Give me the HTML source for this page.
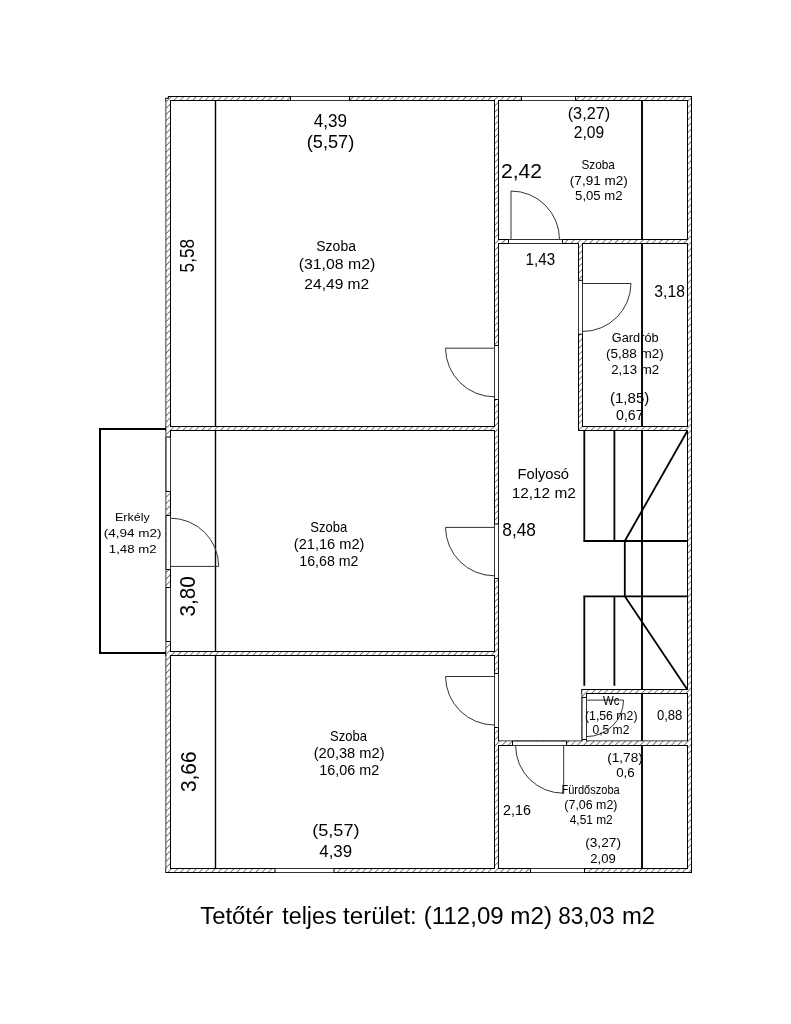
<!DOCTYPE html><html><head><meta charset="utf-8"><style>html,body{margin:0;padding:0;background:#fff;width:791px;height:1024px;overflow:hidden}svg{display:block}text{font-family:"Liberation Sans",sans-serif;fill:#000}</style></head><body>
<svg width="791" height="1024" viewBox="0 0 791 1024">
<defs><filter id="nf" filterUnits="userSpaceOnUse" x="0" y="0" width="791" height="1024"><feOffset dx="0" dy="0"/></filter><pattern id="h" patternUnits="userSpaceOnUse" width="4.439" height="4.439" patternTransform="rotate(45) translate(2.574 0)"><rect width="4.439" height="4.439" fill="#fff"/><line x1="0" y1="0" x2="0" y2="4.439" stroke="#000" stroke-width="1"/></pattern></defs>
<rect width="791" height="1024" fill="#fff"/>
<g fill="url(#h)" stroke="#000" stroke-width="1"><rect x="166" y="96.5" width="525.5" height="4"/><rect x="166" y="868.5" width="525.5" height="4"/><rect x="166" y="96.5" width="4.5" height="776"/><rect x="687.5" y="96.5" width="4" height="776"/><rect x="494.5" y="96.5" width="4" height="776"/><rect x="166" y="426.5" width="332.5" height="4"/><rect x="166" y="651.5" width="332.5" height="4"/><rect x="494.5" y="239.5" width="197" height="4"/><rect x="578.5" y="239.5" width="4" height="191"/><rect x="578.5" y="426.5" width="113" height="4"/><rect x="582" y="689.5" width="109.5" height="4"/><rect x="582" y="689.5" width="4.5" height="56"/><rect x="494.5" y="741" width="197" height="4.5"/></g>
<g fill="url(#h)"><rect x="166.5" y="97" width="524.5" height="3"/><rect x="166.5" y="869" width="524.5" height="3"/><rect x="166.5" y="97" width="3.5" height="775"/><rect x="688" y="97" width="3" height="775"/><rect x="495" y="97" width="3" height="775"/><rect x="166.5" y="427" width="331.5" height="3"/><rect x="166.5" y="652" width="331.5" height="3"/><rect x="495" y="240" width="196" height="3"/><rect x="579" y="240" width="3" height="190"/><rect x="579" y="427" width="112" height="3"/><rect x="582.5" y="690" width="108.5" height="3"/><rect x="582.5" y="690" width="3.5" height="55"/><rect x="495" y="741.5" width="196" height="3.5"/></g>
<path d="M165 95.9H167.9V97.8H165Z" fill="#fff"/><path d="M166 99V98.3H168.4V96.5" fill="none" stroke="#000" stroke-width="1"/>
<g><rect x="290.5" y="97" width="59" height="3" fill="#fff"/><path d="M290.5 96.5H349.5M290.5 100.5H349.5" stroke="#333" stroke-width="1"/><path d="M290.5 96.5V100.5M349.5 96.5V100.5" stroke="#000" stroke-width="1"/><rect x="521.5" y="97" width="54" height="3" fill="#fff"/><path d="M521.5 96.5H575.5M521.5 100.5H575.5" stroke="#333" stroke-width="1"/><path d="M521.5 96.5V100.5M575.5 96.5V100.5" stroke="#000" stroke-width="1"/><rect x="530.5" y="869" width="54" height="3" fill="#fff"/><path d="M530.5 868.5H584.5M530.5 872.5H584.5" stroke="#333" stroke-width="1"/><path d="M530.5 868.5V872.5M584.5 868.5V872.5" stroke="#000" stroke-width="1"/><rect x="275" y="869" width="59" height="3" fill="#fff"/><path d="M275 868.5H334M275 872.5H334" stroke="#333" stroke-width="1"/><path d="M275 868.5V872.5M334 868.5V872.5" stroke="#000" stroke-width="1"/><rect x="495" y="345.5" width="3" height="54" fill="#fff"/><path d="M494.5 345.5V399.5M498.5 345.5V399.5" stroke="#333" stroke-width="1"/><path d="M494.5 345.5H498.5M494.5 399.5H498.5" stroke="#000" stroke-width="1"/><rect x="495" y="524" width="3" height="54.5" fill="#fff"/><path d="M494.5 524V578.5M498.5 524V578.5" stroke="#333" stroke-width="1"/><path d="M494.5 524H498.5M494.5 578.5H498.5" stroke="#000" stroke-width="1"/><rect x="495" y="673.5" width="3" height="54" fill="#fff"/><path d="M494.5 673.5V727.5M498.5 673.5V727.5" stroke="#333" stroke-width="1"/><path d="M494.5 673.5H498.5M494.5 727.5H498.5" stroke="#000" stroke-width="1"/><rect x="508.5" y="240" width="54" height="3" fill="#fff"/><path d="M508.5 239.5H562.5M508.5 243.5H562.5" stroke="#333" stroke-width="1"/><path d="M508.5 239.5V243.5M562.5 239.5V243.5" stroke="#000" stroke-width="1"/><rect x="579" y="280.3" width="3" height="53.9" fill="#fff"/><path d="M578.5 280.3V334.2M582.5 280.3V334.2" stroke="#333" stroke-width="1"/><path d="M578.5 280.3H582.5M578.5 334.2H582.5" stroke="#000" stroke-width="1"/><rect x="582.5" y="697.5" width="3.5" height="42" fill="#fff"/><path d="M582 697.5V739.5M586.5 697.5V739.5" stroke="#333" stroke-width="1"/><path d="M582 697.5H586.5M582 739.5H586.5" stroke="#000" stroke-width="1"/><rect x="512.5" y="741.5" width="54" height="3.5" fill="#fff"/><path d="M512.5 741H566.5M512.5 745.5H566.5" stroke="#333" stroke-width="1"/><path d="M512.5 741V745.5M566.5 741V745.5" stroke="#000" stroke-width="1"/><rect x="166.5" y="437" width="3.5" height="54.5" fill="#fff"/><path d="M166 437V491.5M170.5 437V491.5" stroke="#333" stroke-width="1"/><path d="M166 437H170.5M166 491.5H170.5" stroke="#000" stroke-width="1"/><rect x="166.5" y="515.5" width="3.5" height="54" fill="#fff"/><path d="M166 515.5V569.5M170.5 515.5V569.5" stroke="#333" stroke-width="1"/><path d="M166 515.5H170.5M166 569.5H170.5" stroke="#000" stroke-width="1"/><rect x="166.5" y="587.5" width="3.5" height="54" fill="#fff"/><path d="M166 587.5V641.5M170.5 587.5V641.5" stroke="#333" stroke-width="1"/><path d="M166 587.5H170.5M166 641.5H170.5" stroke="#000" stroke-width="1"/></g>
<g stroke="#000"><line x1="215.5" y1="100.5" x2="215.5" y2="426.5" stroke-width="1.4"/><line x1="215.5" y1="430.5" x2="215.5" y2="651.5" stroke-width="1.4"/><line x1="215.5" y1="655.5" x2="215.5" y2="868.5" stroke-width="1.4"/><line x1="642" y1="100.5" x2="642" y2="239.5" stroke-width="1.9"/><line x1="642" y1="243.5" x2="642" y2="426.5" stroke-width="1.9"/><line x1="642" y1="430.5" x2="642" y2="689.5" stroke-width="1.9"/><line x1="642" y1="693.5" x2="642" y2="741" stroke-width="1.9"/><line x1="642" y1="745.5" x2="642" y2="868.5" stroke-width="1.9"/><line x1="584.3" y1="430.5" x2="584.3" y2="541" stroke-width="1.8"/><line x1="614.4" y1="430.5" x2="614.4" y2="541" stroke-width="1.8"/><line x1="583.4" y1="541" x2="687.5" y2="541" stroke-width="1.8"/><line x1="687.3" y1="431" x2="624.8" y2="541" stroke-width="1.8"/><line x1="624.8" y1="541" x2="624.8" y2="596.3" stroke-width="1.8"/><line x1="583.4" y1="596.3" x2="687.5" y2="596.3" stroke-width="1.8"/><line x1="624.8" y1="596.3" x2="687.3" y2="689.5" stroke-width="1.8"/><line x1="584.3" y1="596.3" x2="584.3" y2="685.8" stroke-width="1.8"/><line x1="614.4" y1="596.3" x2="614.4" y2="685.8" stroke-width="1.8"/><line x1="100" y1="429" x2="166" y2="429" stroke-width="2"/><line x1="100" y1="428" x2="100" y2="654" stroke-width="2"/><line x1="99" y1="653" x2="166" y2="653" stroke-width="2"/></g>
<g fill="none" stroke="#333" stroke-width="1"><path d="M494.5 348.2L445.5 348.2A49 49 0 0 0 494.5 396.8"/><path d="M494.5 527.4L445.5 527.4A49 49 0 0 0 494.5 575.8"/><path d="M494.5 676.5L445.5 676.5A49 49 0 0 0 494.5 725"/><path d="M511 239.5L511 191A48.5 48.5 0 0 1 559.5 239.5"/><path d="M582.5 283.5L631 283.5A48.5 48.5 0 0 1 582.5 331.5"/><path d="M586.5 700.1L623.6 700.1A37.1 37.1 0 0 1 586.5 736.6"/><path d="M563.7 745.5L563.7 793.2A47.7 47.7 0 0 1 515.6 745.5"/><path d="M170.5 566.4L218.7 566.4A48.2 48.2 0 0 0 170.5 518.2"/></g>
<g filter="url(#nf)"><text x="313.66" y="126.7" font-size="17.43" textLength="33.34" lengthAdjust="spacingAndGlyphs">4,39</text><text x="306.71" y="147.5" font-size="17.43" textLength="47.53" lengthAdjust="spacingAndGlyphs">(5,57)</text><text x="316.3" y="250.6" font-size="14" textLength="39.64" lengthAdjust="spacingAndGlyphs">Szoba</text><text x="298.75" y="269.4" font-size="14" textLength="76.48" lengthAdjust="spacingAndGlyphs">(31,08 m2)</text><text x="304.32" y="288.5" font-size="14" textLength="64.95" lengthAdjust="spacingAndGlyphs">24,49 m2</text><text x="567.73" y="118.8" font-size="15.79" textLength="42.39" lengthAdjust="spacingAndGlyphs">(3,27)</text><text x="573.82" y="137.6" font-size="15.79" textLength="30.3" lengthAdjust="spacingAndGlyphs">2,09</text><text x="500.94" y="178.4" font-size="20.57" textLength="41.14" lengthAdjust="spacingAndGlyphs">2,42</text><text x="581.41" y="168.5" font-size="12.86" textLength="33.54" lengthAdjust="spacingAndGlyphs">Szoba</text><text x="569.89" y="184.5" font-size="12.86" textLength="57.81" lengthAdjust="spacingAndGlyphs">(7,91 m2)</text><text x="575.07" y="200.3" font-size="12.86" textLength="47.53" lengthAdjust="spacingAndGlyphs">5,05 m2</text><text x="525.59" y="264.5" font-size="16.29" textLength="29.52" lengthAdjust="spacingAndGlyphs">1,43</text><text x="654.37" y="296.8" font-size="16.29" textLength="30.56" lengthAdjust="spacingAndGlyphs">3,18</text><text x="611.86" y="342.1" font-size="13.21" textLength="46.73" lengthAdjust="spacingAndGlyphs">Gardrób</text><text x="605.99" y="357.7" font-size="13.21" textLength="57.81" lengthAdjust="spacingAndGlyphs">(5,88 m2)</text><text x="611.24" y="373.8" font-size="13.21" textLength="47.87" lengthAdjust="spacingAndGlyphs">2,13 m2</text><text x="610" y="403.1" font-size="13.71" textLength="39.24" lengthAdjust="spacingAndGlyphs">(1,85)</text><text x="616.03" y="420.2" font-size="13.71" textLength="27.63" lengthAdjust="spacingAndGlyphs">0,67</text><text x="517.52" y="478.7" font-size="15" textLength="51.49" lengthAdjust="spacingAndGlyphs">Folyosó</text><text x="511.67" y="497.6" font-size="15" textLength="64.09" lengthAdjust="spacingAndGlyphs">12,12 m2</text><text x="502.31" y="535.7" font-size="17.71" textLength="33.7" lengthAdjust="spacingAndGlyphs">8,48</text><text x="115" y="520.6" font-size="11.5" textLength="34.81" lengthAdjust="spacingAndGlyphs">Erkély</text><text x="103.69" y="536.6" font-size="11.5" textLength="57.92" lengthAdjust="spacingAndGlyphs">(4,94 m2)</text><text x="108.84" y="552.7" font-size="11.5" textLength="47.76" lengthAdjust="spacingAndGlyphs">1,48 m2</text><text x="310.25" y="532.1" font-size="13.79" textLength="36.99" lengthAdjust="spacingAndGlyphs">Szoba</text><text x="293.82" y="549.1" font-size="13.79" textLength="70.63" lengthAdjust="spacingAndGlyphs">(21,16 m2)</text><text x="299.26" y="566.2" font-size="13.79" textLength="59.24" lengthAdjust="spacingAndGlyphs">16,68 m2</text><text x="330.05" y="740.7" font-size="13.93" textLength="36.99" lengthAdjust="spacingAndGlyphs">Szoba</text><text x="313.72" y="758.2" font-size="13.93" textLength="70.84" lengthAdjust="spacingAndGlyphs">(20,38 m2)</text><text x="319.35" y="775" font-size="13.93" textLength="59.86" lengthAdjust="spacingAndGlyphs">16,06 m2</text><text x="312.21" y="836.2" font-size="16.71" textLength="47.32" lengthAdjust="spacingAndGlyphs">(5,57)</text><text x="319.26" y="856.6" font-size="16.71" textLength="32.82" lengthAdjust="spacingAndGlyphs">4,39</text><text x="603.09" y="704.5" font-size="12.14" textLength="16.38" lengthAdjust="spacingAndGlyphs">Wc</text><text x="584.96" y="719.8" font-size="12.14" textLength="52.57" lengthAdjust="spacingAndGlyphs">(1,56 m2)</text><text x="592.52" y="734.4" font-size="12.14" textLength="36.85" lengthAdjust="spacingAndGlyphs">0,5 m2</text><text x="656.88" y="720.2" font-size="14.14" textLength="25.43" lengthAdjust="spacingAndGlyphs">0,88</text><text x="607.18" y="762.1" font-size="12.64" textLength="35.57" lengthAdjust="spacingAndGlyphs">(1,78)</text><text x="616.17" y="777.4" font-size="12.64" textLength="18.57" lengthAdjust="spacingAndGlyphs">0,6</text><text x="561.42" y="793.9" font-size="12.5" textLength="58.29" lengthAdjust="spacingAndGlyphs">Fürdőszoba</text><text x="564.36" y="809.3" font-size="12.5" textLength="53.08" lengthAdjust="spacingAndGlyphs">(7,06 m2)</text><text x="569.76" y="824.1" font-size="12.5" textLength="42.97" lengthAdjust="spacingAndGlyphs">4,51 m2</text><text x="503.08" y="815.1" font-size="15.14" textLength="27.88" lengthAdjust="spacingAndGlyphs">2,16</text><text x="585.18" y="846.8" font-size="13.57" textLength="35.78" lengthAdjust="spacingAndGlyphs">(3,27)</text><text x="590.25" y="862.9" font-size="13.57" textLength="25.46" lengthAdjust="spacingAndGlyphs">2,09</text><text x="200.22" y="923.5" font-size="24.29" textLength="72.99" lengthAdjust="spacingAndGlyphs">Tetőtér</text><text x="282.23" y="923.5" font-size="24.29" textLength="54.37" lengthAdjust="spacingAndGlyphs">teljes</text><text x="343.02" y="923.5" font-size="24.29" textLength="73.79" lengthAdjust="spacingAndGlyphs">terület:</text><text x="423.86" y="923.5" font-size="24.29" textLength="79.79" lengthAdjust="spacingAndGlyphs">(112,09</text><text x="510.31" y="923.5" font-size="24.29" textLength="41.7" lengthAdjust="spacingAndGlyphs">m2)</text><text x="558.2" y="923.5" font-size="24.29" textLength="56.46" lengthAdjust="spacingAndGlyphs">83,03</text><text x="621.93" y="923.5" font-size="24.29" textLength="33.14" lengthAdjust="spacingAndGlyphs">m2</text><text x="194" y="272.39" font-size="19.29" textLength="33.59" lengthAdjust="spacingAndGlyphs" transform="rotate(-90 194 272.39)">5,58</text><text x="194.6" y="616.53" font-size="22.14" textLength="40.28" lengthAdjust="spacingAndGlyphs" transform="rotate(-90 194.6 616.53)">3,80</text><text x="196" y="792.03" font-size="22.57" textLength="40.5" lengthAdjust="spacingAndGlyphs" transform="rotate(-90 196 792.03)">3,66</text></g>
</svg></body></html>
